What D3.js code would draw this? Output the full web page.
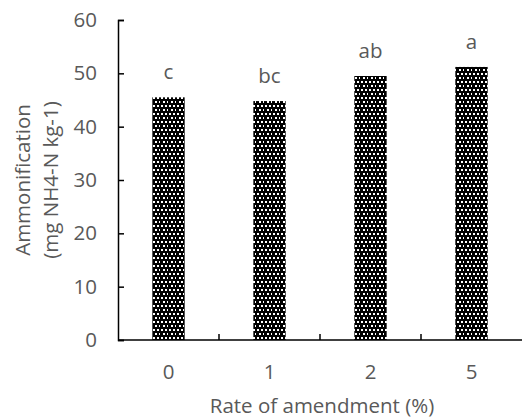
<!DOCTYPE html>
<html>
<head>
<meta charset="utf-8">
<script src="https://cdn.jsdelivr.net/npm/d3@7"></script>
<style>
body { margin: 0; background: #fff; }
text { font-family: "Open Sans", sans-serif; fill: #595959; }
</style>
</head>
<body>
<svg id="chart" width="522" height="418"></svg>
<script>
// data
const rates = ["0", "1", "2", "5"];
const ammonification = [45.5, 44.8, 49.5, 51.2];
const letters = ["c", "bc", "ab", "a"];
const yTicks = [0, 10, 20, 30, 40, 50, 60];

const svg = d3.select("#chart");
const margin = {left: 118, right: 0, top: 20, bottom: 78};
const W = 522, H = 418;
const fs = 20.5;

const x = d3.scaleBand().domain(rates).range([margin.left, W - margin.right]).paddingInner(0.68).paddingOuter(0.34);
const xb = d3.scaleBand().domain(rates).range([margin.left, W - margin.right]);
const y = d3.scaleLinear().domain([0, 60]).range([H - margin.bottom, margin.top]);

// dotted fill like the excel pattern
const pat = svg.append("defs").append("pattern")
	.attr("id", "dots").attr("patternUnits", "userSpaceOnUse")
	.attr("width", 8).attr("height", 8);
pat.append("rect").attr("width", 8).attr("height", 8).attr("fill", "#000");
[[1, 1], [5, 1], [3, 5], [7, 5]].forEach(p => {
	pat.append("rect").attr("x", p[0]).attr("y", p[1]).attr("width", 2).attr("height", 2).attr("fill", "#fff");
});

svg.selectAll("rect.bar")
	.data(ammonification)
	.enter().append("rect")
		.attr("class", "bar")
		.attr("x", (d, i) => x(rates[i]))
		.attr("width", x.bandwidth())
		.attr("y", d => y(d))
		.attr("height", d => y(0) - y(d))
		.attr("fill", "url(#dots)");

svg.selectAll("text.sig")
	.data(letters)
	.enter().append("text")
		.attr("class", "sig")
		.attr("x", (d, i) => x(rates[i]) + x.bandwidth() / 2)
		.attr("y", (d, i) => y(ammonification[i]) - 18)
		.attr("text-anchor", "middle")
		.attr("font-size", fs)
		.text(d => d);

// y axis, ticks pointing inward
const yAxis = svg.append("g")
	.attr("transform", `translate(${margin.left},0)`)
	.call(d3.axisRight(y).tickValues(yTicks).tickSize(6).tickFormat(d => d));
yAxis.select(".domain").attr("stroke", "#000").attr("stroke-width", 1.5);
yAxis.selectAll(".tick line").attr("stroke", "#000").attr("stroke-width", 1.5);
yAxis.selectAll(".tick text")
	.attr("x", -21).attr("text-anchor", "end")
	.attr("font-size", fs).attr("font-family", "Open Sans").attr("fill", "#595959");

// x axis: category ticks at band boundaries
const xAxis = svg.append("g").attr("transform", `translate(0,${y(0)})`);
xAxis.append("line")
	.attr("x1", margin.left).attr("x2", W)
	.attr("stroke", "#000").attr("stroke-width", 1.5);
xAxis.selectAll("line.tk")
	.data(rates.slice(1))
	.enter().append("line")
		.attr("class", "tk")
		.attr("x1", d => xb(d)).attr("x2", d => xb(d))
		.attr("y1", 0).attr("y2", -6)
		.attr("stroke", "#000").attr("stroke-width", 1.5);
xAxis.selectAll("text")
	.data(rates)
	.enter().append("text")
		.attr("x", d => xb(d) + xb.bandwidth() / 2)
		.attr("y", 38.5)
		.attr("text-anchor", "middle")
		.attr("font-size", fs)
		.text(d => d);

svg.append("text")
	.attr("x", 322).attr("y", 413)
	.attr("text-anchor", "middle")
	.attr("font-size", fs)
	.text("Rate of amendment (%)");

const yl = svg.append("text")
	.attr("transform", `translate(0,${(y(0) + y(60)) / 2}) rotate(-90)`)
	.attr("text-anchor", "middle")
	.attr("font-size", fs);
yl.append("tspan").attr("x", 0).attr("y", 30).text("Ammonification");
yl.append("tspan").attr("x", 0).attr("y", 58).text("(mg NH4-N kg-1)");
</script>
</body>
</html>
